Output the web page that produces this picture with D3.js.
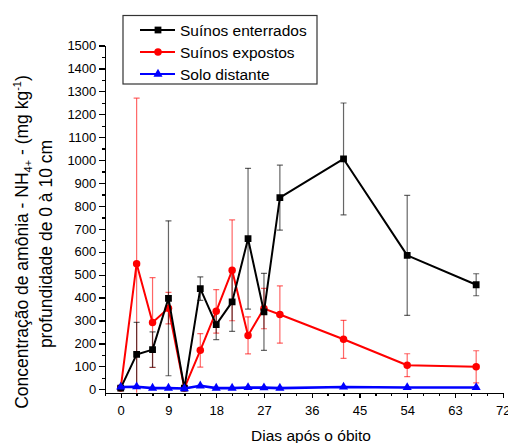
<!DOCTYPE html>
<html>
<head>
<meta charset="utf-8">
<script src="https://d3js.org/d3.v7.min.js"></script>
<style>
    body { margin: 0; background: #ffffff; }
    svg { display: block; font-family: "Liberation Sans", Arial, sans-serif; }
    .axis path, .axis line { stroke: #000; stroke-width: 1.3px; shape-rendering: crispEdges; }
    .axis text { font-size: 13px; fill: #000; font-family: "Liberation Sans", Arial, sans-serif; }
</style>
</head>
<body>
<svg id="chart" width="508" height="443"></svg>
<script>
    // dias apos o obito
    var dias = [0, 3, 6, 9, 12, 15, 18, 21, 24, 27, 30, 42, 54, 67];

    // suinos enterrados
    var enterrados = [5, 152, 173, 397, 5, 439, 282, 381, 657, 338, 836, 1005, 584, 456];
    var enterradosErr = [5, 140, 77, 338, 5, 51, 65, 128, 307, 168, 142, 244, 262, 48];

    // suinos expostos
    var expostos = [5, 548, 291, 354, 5, 170, 340, 519, 235, 352, 326, 218, 105, 98];
    var expostosErr = [5, 722, 196, 69, 5, 73, 95, 220, 81, 88, 125, 83, 50, 70];

    // solo distante
    var solo = [10, 11, 5, 5, 3, 15, 5, 5, 8, 7, 5, 10, 8, 8];
    var soloErr = [4, 4, 3, 3, 3, 4, 3, 3, 3, 3, 3, 4, 3, 3];

    var xTicks = [0, 9, 18, 27, 36, 45, 54, 63, 72];
    var yTicks = d3.range(0, 1501, 100);

    var svg = d3.select("#chart");

    var x = d3.scaleLinear().domain([-3, 72]).range([104.8, 502.7]);
    var y = d3.scaleLinear().domain([-15, 1500]).range([392.7, 45.5]);

    // eixo y (menores primeiro)
    svg.append("g")
        .attr("class", "axis")
        .attr("transform", "translate(" + x(-3) + ",0)")
        .call(d3.axisLeft(y).tickValues(d3.range(50, 1500, 100)).tickSize(3).tickFormat(""))
        .select(".domain").remove();
    svg.append("g")
        .attr("class", "axis")
        .attr("transform", "translate(" + x(-3) + ",0)")
        .call(d3.axisLeft(y).tickValues(yTicks).tickSize(5.5).tickSizeOuter(0).tickPadding(3).tickFormat(d3.format("d")));

    // eixo x
    svg.append("g")
        .attr("class", "axis")
        .attr("transform", "translate(0," + y(-15) + ")")
        .call(d3.axisBottom(x).tickValues(d3.range(-3, 72, 3).filter(function (d) { return d % 9 !== 0; })).tickSize(3).tickFormat(""))
        .select(".domain").remove();
    svg.append("g")
        .attr("class", "axis")
        .attr("transform", "translate(0," + y(-15) + ")")
        .call(d3.axisBottom(x).tickValues(xTicks).tickSize(5.5).tickSizeOuter(0).tickPadding(8).tickFormat(d3.format("d")));

    svg.append("clipPath").attr("id", "plotclip")
        .append("rect")
        .attr("x", x(-3)).attr("y", 0)
        .attr("width", x(72) - x(-3) + 6).attr("height", y(-15));

    var series = [
        {name: "Suínos expostos", vals: expostos, err: expostosErr, color: "#ff0000", errColor: "rgba(255,0,0,0.6)", shape: "circle"},
        {name: "Suínos enterrados", vals: enterrados, err: enterradosErr, color: "#000000", errColor: "rgba(0,0,0,0.6)", shape: "square"},
        {name: "Solo distante", vals: solo, err: soloErr, color: "#0000ff", errColor: "rgba(80,120,255,0.5)", shape: "triangle"}
    ];

    function symbolFor(shape) {
        if (shape === "square") return d3.symbol().type(d3.symbolSquare).size(46);
        if (shape === "circle") return d3.symbol().type(d3.symbolCircle).size(44);
        return d3.symbol().type(d3.symbolTriangle).size(36);
    }

    var plot = svg.append("g").attr("clip-path", "url(#plotclip)");

    series.forEach(function (s) {
        var pts = dias.map(function (d, i) { return {d: d, v: s.vals[i], e: s.err[i]}; });
        var eg = plot.append("g").attr("stroke", s.errColor).attr("stroke-width", 1.2).attr("fill", "none");
        pts.forEach(function (p) {
            eg.append("line").attr("x1", x(p.d)).attr("x2", x(p.d)).attr("y1", y(p.v - p.e)).attr("y2", y(p.v + p.e));
            eg.append("line").attr("x1", x(p.d) - 3).attr("x2", x(p.d) + 3).attr("y1", y(p.v + p.e)).attr("y2", y(p.v + p.e));
            eg.append("line").attr("x1", x(p.d) - 3).attr("x2", x(p.d) + 3).attr("y1", y(p.v - p.e)).attr("y2", y(p.v - p.e));
        });
    });

    series.forEach(function (s) {
        var pts = dias.map(function (d, i) { return {d: d, v: s.vals[i]}; });
        plot.append("path")
            .datum(pts)
            .attr("fill", "none")
            .attr("stroke", s.color)
            .attr("stroke-width", s.shape === "triangle" ? 2.6 : 2)
            .attr("stroke-linejoin", "round")
            .attr("d", d3.line().x(function (p) { return x(p.d); }).y(function (p) { return y(p.v); }));
        plot.append("g").selectAll("path")
            .data(pts)
            .enter().append("path")
            .attr("transform", function (p) { return "translate(" + x(p.d) + "," + y(p.v) + ")"; })
            .attr("d", symbolFor(s.shape))
            .attr("fill", s.color);
    });

    // titulos dos eixos
    svg.append("text")
        .attr("x", 311).attr("y", 441)
        .attr("text-anchor", "middle")
        .style("font-size", "15.5px")
        .text("Dias após o óbito");

    var t1 = svg.append("text")
        .attr("transform", "translate(27.5,242) rotate(-90)")
        .attr("text-anchor", "middle")
        .style("font-size", "17.5px");
    t1.append("tspan").text("Concentração de amônia - NH");
    t1.append("tspan").attr("dy", 4).style("font-size", "11px").text("4+");
    t1.append("tspan").attr("dy", -4).text(" - (mg kg");
    t1.append("tspan").attr("dy", -7).style("font-size", "11px").text("-1");
    t1.append("tspan").attr("dy", 7).text(")");

    svg.append("text")
        .attr("transform", "translate(52,244) rotate(-90)")
        .attr("text-anchor", "middle")
        .style("font-size", "17.5px")
        .text("profundidade de 0 à 10 cm");

    // legenda
    var legOrder = [series[1], series[0], series[2]];
    var leg = svg.append("g");
    leg.append("rect")
        .attr("x", 123).attr("y", 15.5).attr("width", 194).attr("height", 68.5)
        .attr("fill", "#fff").attr("stroke", "#333").attr("stroke-width", 1.2);
    legOrder.forEach(function (s, i) {
        var ly = 30 + i * 22;
        leg.append("line").attr("x1", 140).attr("x2", 175).attr("y1", ly).attr("y2", ly)
            .attr("stroke", s.color).attr("stroke-width", 2);
        leg.append("path").attr("transform", "translate(158," + ly + ")").attr("d", symbolFor(s.shape)).attr("fill", s.color);
        leg.append("text").attr("x", 180).attr("y", ly + 5.5).style("font-size", "15.5px").text(s.name);
    });
</script>
</body>
</html>
